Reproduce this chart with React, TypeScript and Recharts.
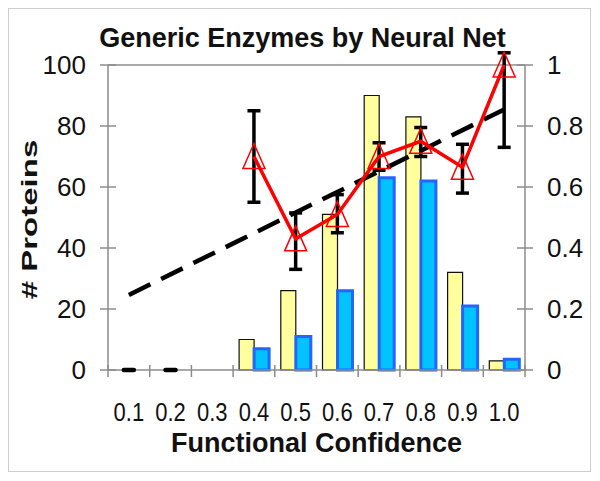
import React from "react";
import { ComposedChart, Bar, Line, XAxis, YAxis, ErrorBar, Label, ReferenceLine } from "recharts";

// confidence bins on the x axis
const categories = ["0.1", "0.2", "0.3", "0.4", "0.5", "0.6", "0.7", "0.8", "0.9", "1.0"];
// protein counts (left axis)
const predictedCounts = [null, null, null, 10, 26, 51, 90, 83, 32, 3];
const correctCounts = [null, null, null, 7, 11, 26, 63, 62, 21, 3.5];
// fraction correct (right axis) with [low, high] error
const accuracy = [null, null, null, 0.7, 0.43, 0.51, 0.7, 0.75, 0.665, 1.0];
const accuracyErr = [null, null, null, [0.15, 0.15], [0.1, 0.085], [0.06, 0.065], [0.045, 0.045], [0.05, 0.045], [0.085, 0.075], [0.27, 0.04]];
const emptyBins = [0, 0, null, null, null, null, null, null, null, null];
const trend = [0.246, null, null, null, null, null, null, null, null, 0.854];

const leftTicks = [0, 20, 40, 60, 80, 100];
const rightTicks = [0, 0.2, 0.4, 0.6, 0.8, 1];

const data = categories.map((cat, i) => ({
  cat,
  predicted: predictedCounts[i],
  correct: correctCounts[i],
  accuracy: accuracy[i],
  accuracyErr: accuracyErr[i],
  empty: emptyBins[i],
  trend: trend[i],
}));

const FONT = "'Liberation Sans', Arial, sans-serif";
const AXIS = "#8c8c8c";

const LeftTick = ({ x, y, payload }: any) => (
  <g>
    <line x1={x - 8} x2={x + 8} y1={y} y2={y} stroke={AXIS} strokeWidth={1.5} />
    <text x={x - 22} y={y} textAnchor="end" dominantBaseline="central" fontSize={26} fontFamily={FONT} fill="#111">
      {payload.value}
    </text>
  </g>
);

const RightTick = ({ x, y, payload }: any) => (
  <g>
    <line x1={x - 8} x2={x + 8} y1={y} y2={y} stroke={AXIS} strokeWidth={1.5} />
    <text x={x + 22} y={y} textAnchor="start" dominantBaseline="central" fontSize={26} fontFamily={FONT} fill="#111">
      {String(payload.value)}
    </text>
  </g>
);

const BottomTick = ({ x, y, payload, index }: any) => {
  const half = typeof payload.offset === "number" && payload.offset > 0 ? payload.offset : 20.85;
  return (
    <g>
      <line x1={x - half} x2={x - half} y1={y - 5} y2={y + 7} stroke={AXIS} strokeWidth={1.5} />
      {index === categories.length - 1 && (
        <line x1={x + half} x2={x + half} y1={y - 5} y2={y + 7} stroke={AXIS} strokeWidth={1.5} />
      )}
      <text transform={`translate(${x},${y + 51}) scale(1,1.2)`} textAnchor="middle" fontSize={22} fontFamily={FONT} fill="#111">
        {payload.value}
      </text>
    </g>
  );
};

const Triangle = ({ cx, cy }: any) => {
  if (cx == null || cy == null) return null;
  return (
    <polygon
      points={`${cx},${cy - 13} ${cx - 11},${cy + 12} ${cx + 11},${cy + 12}`}
      fill="none"
      stroke="#ff0000"
      strokeWidth={1.5}
    />
  );
};

// flat black dash for bins with no predictions
const ZeroDash = ({ cx, cy, value }: any) => {
  if (cx == null || cy == null || value == null) return null;
  return <line x1={cx - 5} x2={cx + 5} y1={cy} y2={cy} stroke="#000" strokeWidth={4.5} strokeLinecap="round" />;
};

export default function App() {
  return (
    <div style={{ width: 583, height: 464, border: "1px solid #cfcfcf", boxSizing: "border-box", background: "#fff" }}>
      <ComposedChart
        width={581}
        height={462}
        data={data}
        margin={{ top: 56, right: 0, left: 0, bottom: 0 }}
        barCategoryGap={6}
        barGap={0}
      >
        <XAxis
          dataKey="cat"
          height={101}
          tickSize={0}
          tickMargin={0}
          tickLine={false}
          axisLine={{ stroke: AXIS, strokeWidth: 1.5 }}
          tick={BottomTick}
          interval={0}
        >
          <Label
            content={({ viewBox }: any) => (
              <text x={viewBox.x + viewBox.width / 2} y={viewBox.y + 82} textAnchor="middle" fontSize={27} fontWeight="bold" fontFamily={FONT} fill="#111">
                Functional Confidence
              </text>
            )}
          />
        </XAxis>
        <YAxis
          yAxisId="left"
          width={99}
          domain={[0, 100]}
          ticks={leftTicks}
          tickSize={0}
          tickMargin={0}
          tickLine={false}
          axisLine={{ stroke: AXIS, strokeWidth: 1.5 }}
          tick={LeftTick}
        >
          <Label
            content={({ viewBox }: any) => {
              const cx = viewBox.x + 21;
              const cy = viewBox.y + viewBox.height / 2 + 2;
              return (
                <g>
                  <text x={293.5} y={viewBox.y - 18} textAnchor="middle" fontSize={27} fontWeight="bold" fontFamily={FONT} fill="#111">
                    Generic Enzymes by Neural Net
                  </text>
                  <text
                    transform={`translate(${cx},${cy}) rotate(-90) scale(1.5,1)`}
                    textAnchor="middle"
                    dominantBaseline="central"
                    fontSize={22}
                    fontWeight="bold"
                    fontFamily={FONT}
                    fill="#111"
                  >
                    # Proteins
                  </text>
                </g>
              );
            }}
          />
        </YAxis>
        <YAxis
          yAxisId="right"
          orientation="right"
          width={65}
          domain={[0, 1]}
          ticks={rightTicks}
          tickSize={0}
          tickMargin={0}
          tickLine={false}
          axisLine={{ stroke: AXIS, strokeWidth: 1.5 }}
          tick={RightTick}
        />
        <YAxis yAxisId="rightClip" orientation="right" hide domain={[0, 1]} allowDataOverflow />

        <ReferenceLine yAxisId="left" y={100} stroke={AXIS} strokeWidth={1.5} />

        <Bar yAxisId="left" dataKey="predicted" fill="#ffff9e" stroke="#111" strokeWidth={1.2} isAnimationActive={false} />
        <Bar yAxisId="left" dataKey="correct" fill="#00c3ff" stroke="#2266ff" strokeWidth={3} isAnimationActive={false} />

        <Line
          yAxisId="right"
          dataKey="trend"
          stroke="#000"
          strokeWidth={4.5}
          strokeDasharray="24 12"
          connectNulls
          dot={false}
          activeDot={false}
          isAnimationActive={false}
        />
        <Line yAxisId="rightClip" dataKey="accuracy" stroke="none" dot={false} activeDot={false} isAnimationActive={false}>
          <ErrorBar dataKey="accuracyErr" width={6.5} strokeWidth={3.5} stroke="#000" isAnimationActive={false} />
        </Line>
        <Line yAxisId="right" dataKey="empty" stroke="none" dot={ZeroDash} activeDot={false} isAnimationActive={false} />
        <Line
          yAxisId="right"
          dataKey="accuracy"
          stroke="#ff0000"
          strokeWidth={3.5}
          dot={Triangle}
          activeDot={false}
          isAnimationActive={false}
        />
      </ComposedChart>
    </div>
  );
}
